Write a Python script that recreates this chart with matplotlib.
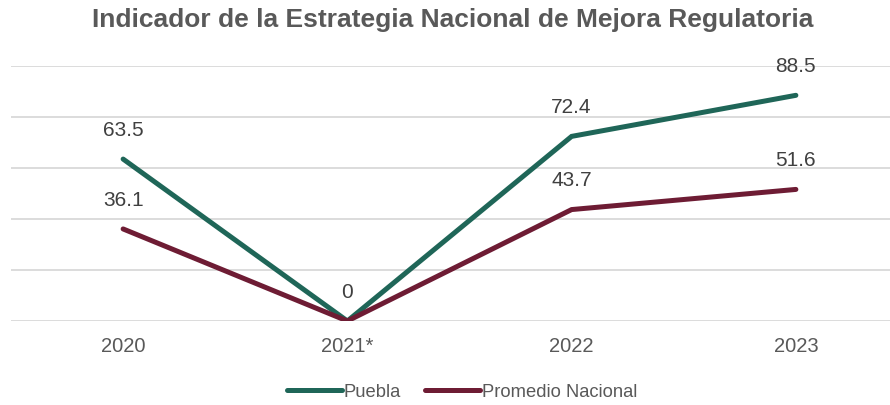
import matplotlib
matplotlib.use("Agg")
import matplotlib.pyplot as plt

years = ["2020", "2021*", "2022", "2023"]
puebla = [63.5, 0, 72.4, 88.5]
nacional = [36.1, 0, 43.7, 51.6]
series_names = ["Puebla", "Promedio Nacional"]
colors = ["#1F6658", "#6E1C34"]
title = "Indicador de la Estrategia Nacional de Mejora Regulatoria"

plt.rcParams['font.family'] = ['Liberation Sans', 'DejaVu Sans']

W, H = 890, 406
fig = plt.figure(figsize=(W/100, H/100), dpi=100)
# axes from x=11 to 908 px (extends past figure), y from 67 to 322 px
ax = fig.add_axes([11/W, (H-322)/H, (908-11)/W, (322-67)/H])
x = list(range(len(years)))
for vals, name, c in zip([puebla, nacional], series_names, colors):
    ax.plot(x, vals, color=c, lw=3.6, solid_capstyle='round', solid_joinstyle='miter',
            label=name, zorder=3)
    for xi, v in zip(x, vals):
        if name == "Promedio Nacional" and v == 0:
            continue
        ax.annotate(f"{v:g}", (xi, v), xytext=(0, 21.5), textcoords='offset points',
                    ha='center', va='center', fontsize=15, color='#404040')

ax.set_xlim(-0.5, 3.5)
ax.set_ylim(0, 100)
ax.set_yticks([0, 20, 40, 60, 80, 100])
ax.yaxis.grid(True, color='#D9D9D9', lw=1.3, zorder=0)
ax.set_yticklabels([])
ax.tick_params(axis='y', length=0)
ax.set_xticks(x)
ax.set_xticklabels(years, fontsize=14.5, color='#595959')
ax.tick_params(axis='x', length=0, pad=11)
for s in ax.spines.values():
    s.set_visible(False)

fig.text(453/W, 1-20/H, title, ha='center', va='center', fontsize=19,
         fontweight='bold', color='#595959')

leg = fig.legend(loc='center', bbox_to_anchor=(462/W, 1-393/H), ncol=2, frameon=False,
                 fontsize=13.2, handlelength=3.0, handletextpad=0.1, columnspacing=1.3)
for t in leg.get_texts():
    t.set_color('#595959')

fig.savefig("out.png", dpi=100)
